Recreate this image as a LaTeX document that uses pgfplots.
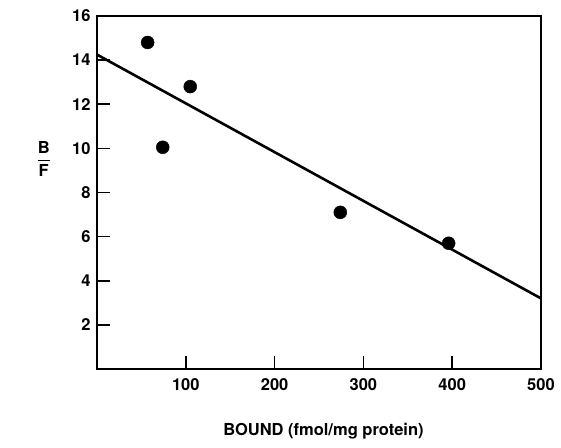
\documentclass[border=0pt]{standalone}
\usepackage{pgfplots}
\pgfplotsset{compat=1.18}
\usepackage{fontspec}
\setmainfont{TeX Gyre Heros}
\begin{document}
\begin{tikzpicture}[font=\fontsize{16.5}{18}\selectfont\bfseries]
  \begin{axis}[
      scale only axis,
      width=444pt, height=353pt,
      xmin=0, xmax=500, ymin=0, ymax=16,
      xtick={100,200,300,400,500},
      ytick={2,4,...,16},
      tick pos=left,
      tick align=inside,
      major tick length=13pt,
      axis line style={line width=1.6pt},
      major tick style={line width=1.7pt, black},
      /pgf/number format/assume math mode=true,
      ticklabel style={font=\fontsize{16.5}{18}\selectfont\bfseries},
      xticklabel style={yshift=-6pt},
      yticklabel style={xshift=-3pt},
      xlabel={BOUND (fmol/mg protein)},
      xlabel style={font=\fontsize{18.5}{20}\selectfont\bfseries},
      every axis x label/.style={at={(axis description cs:0.51,-0.175)}, anchor=center},
      ylabel={$\displaystyle\frac{\mbox{\bfseries B}}{\mbox{\bfseries F}}$},
      every axis y label/.style={at={(axis description cs:-0.12,0.595)}, anchor=center},
    ]
    \addplot[only marks, mark=*, mark size=6.5pt, black] coordinates {
      (57,14.8) (74,10.05) (105,12.8) (274,7.1) (396,5.7)
    };
    \addplot[line width=2.6pt, black] coordinates {(0,14.25) (500,3.2)};
    % x ticks drawn again so they show at every position
    \pgfplotsinvokeforeach{100,200,300,400}{
      \draw[line width=1.7pt] (axis cs:#1,0) -- ++(0,10pt);
    }
  \end{axis}
  \path (current axis.south west) ++(-97pt,-78pt) rectangle ++(561pt,447pt);
\end{tikzpicture}
\end{document}
